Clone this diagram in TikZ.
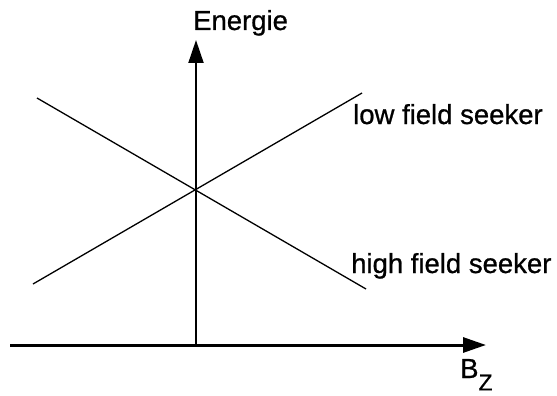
\documentclass[tikz,border=0pt]{standalone}
\usepackage{fontspec}
\setmainfont{Liberation Sans}[FakeBold=0.8]
\usetikzlibrary{arrows.meta}
\begin{document}
\begin{tikzpicture}[x=1pt,y=-1pt,
  lbl/.style={anchor=base west,inner sep=0pt,font=\fontsize{27.5}{32}\selectfont},
  axis/.style={line width=2pt,-{Triangle[length=23pt,width=15pt]}},
  level/.style={line width=1.3pt}]
\useasboundingbox (0,0) rectangle (557,396);
\coordinate (xs) at (10,345);
\coordinate (xe) at (486,345);
\coordinate (ys) at (196,345);
\coordinate (ye) at (196,40);
\coordinate (l1) at (33,284);
\coordinate (l2) at (362,93);
\coordinate (h1) at (37,98);
\coordinate (h2) at (366,289);
\draw[axis,line width=3pt] (xs) -- (xe);
\draw[axis] (ys) -- (ye);
\draw[level] (l1) -- (l2);
\draw[level] (h1) -- (h2);
\node[lbl] (en) at (193,30) {Energie};
\node[lbl] (lfs) at (353,124) {low field seeker};
\node[lbl] (hfs) at (351,273) {high field seeker};
\node[lbl] (bz) at (460,378) {B\raisebox{-0.45em}{\fontsize{23}{26}\selectfont Z}};
\end{tikzpicture}
\end{document}
